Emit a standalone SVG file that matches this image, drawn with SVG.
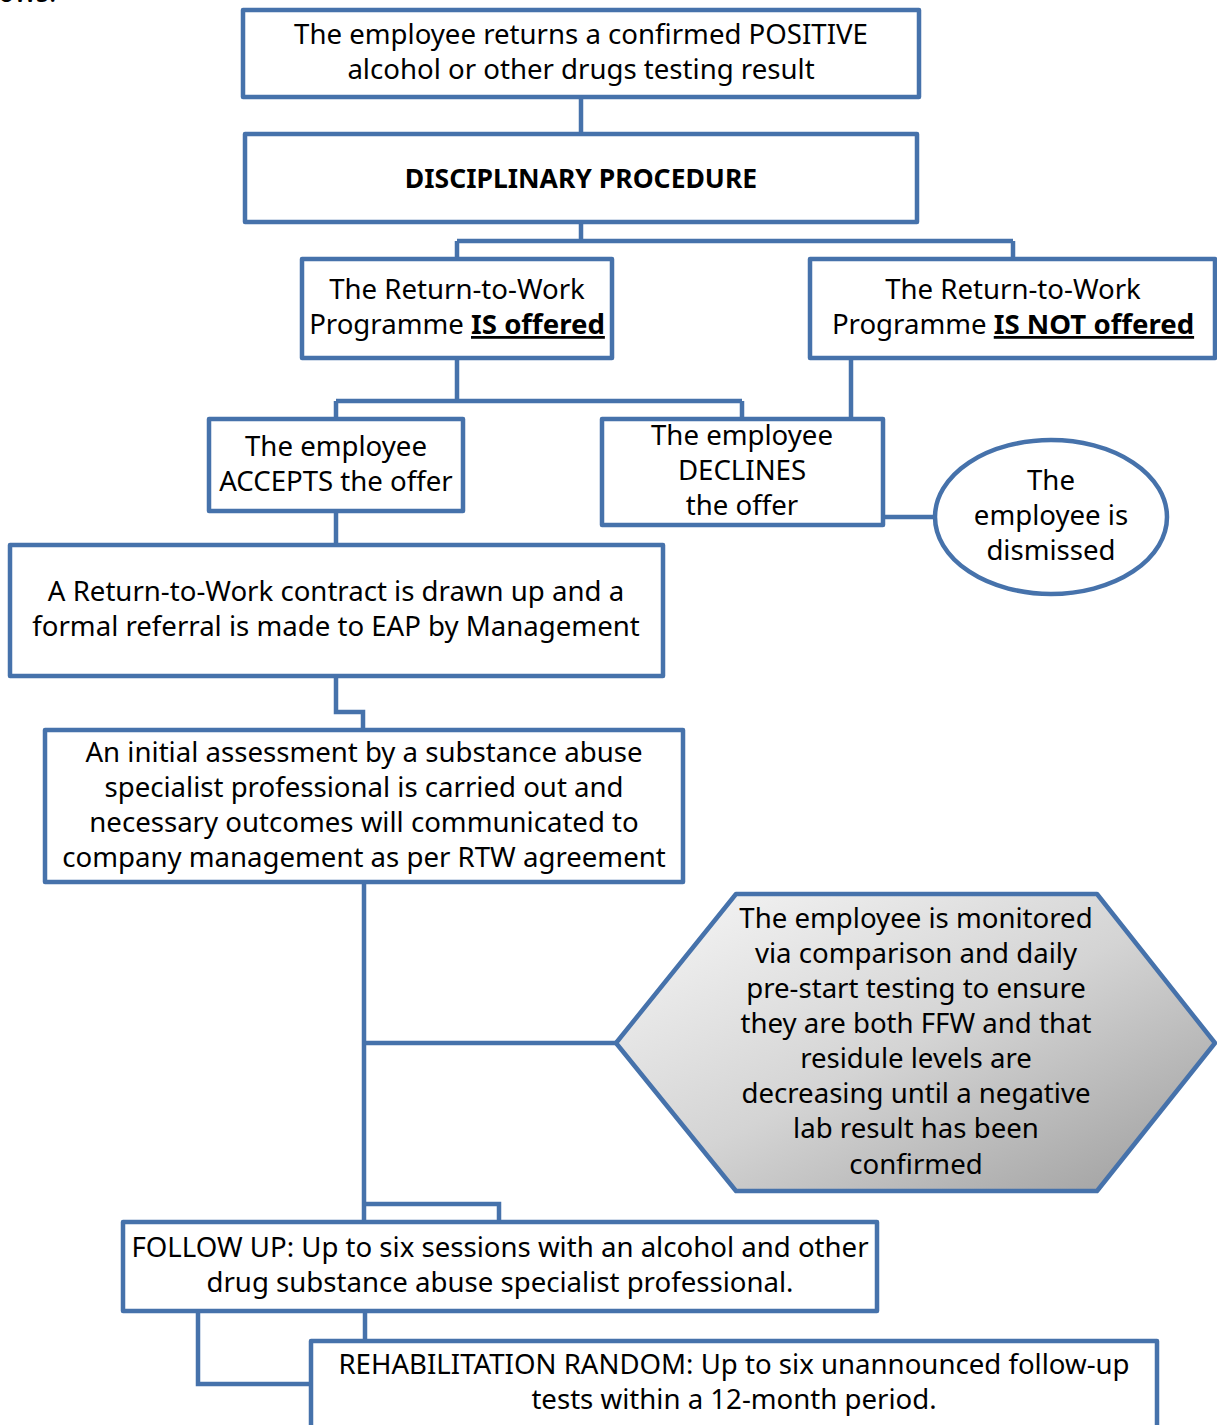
<svg xmlns="http://www.w3.org/2000/svg" width="1217" height="1425" viewBox="0 0 1217 1425">
  <style>
    .box { fill: #ffffff; stroke: #4672ab; stroke-width: 4.5; stroke-linejoin: round; }
    .hex { fill: url(#hexFill); stroke: #4672ab; stroke-width: 4.5; stroke-linejoin: round; }
    .wire { fill: none; stroke: #4672ab; stroke-width: 4.5; stroke-linejoin: miter; }
    text { font-family: "Noto Sans", "Liberation Sans", Arial, sans-serif; font-size: 27.6px; fill: #000000; text-anchor: middle; }
    .bold { font-weight: bold; }
    .em { font-weight: bold; text-decoration: underline; }
  </style>
  <defs>
    <linearGradient id="hexFill" x1="0" y1="0" x2="1" y2="1">
      <stop offset="0" stop-color="#f7f7f7"/>
      <stop offset="0.5" stop-color="#d4d4d4"/>
      <stop offset="1" stop-color="#9c9c9c"/>
    </linearGradient>
  </defs>

  <!-- trailing words of the preceding paragraph, cut by the top edge -->
  <text x="-2" y="2" style="text-anchor:start">ows:</text>

  <!-- connectors -->
  <g id="connectors">
    <path class="wire" d="M581,97 V134"/>
    <path class="wire" d="M581,222 V241 M457,241 H1013 M457,241 V259 M1013,241 V259"/>
    <path class="wire" d="M457,358 V401 M336,401 H742 M336,401 V419 M742,401 V419"/>
    <path class="wire" d="M851,358 V419"/>
    <path class="wire" d="M883,517 H936"/>
    <path class="wire" d="M336,511 V545"/>
    <path class="wire" d="M336,676 V712 H363 V730"/>
    <path class="wire" d="M364,882 V1222"/>
    <path class="wire" d="M364,1043 H616"/>
    <path class="wire" d="M364,1204 H499 V1222"/>
    <path class="wire" d="M365,1311 V1341"/>
    <path class="wire" d="M198,1311 V1384 H311"/>
  </g>

  <g id="positive-result">
    <rect class="box" x="243" y="10" width="676" height="87"/>
    <text x="581" y="44">The employee returns a confirmed POSITIVE</text>
    <text x="581" y="79">alcohol or other drugs testing result</text>
  </g>

  <g id="disciplinary">
    <rect class="box" x="245" y="134" width="672" height="88"/>
    <text class="bold" x="581" y="188" style="font-size:26.5px">DISCIPLINARY PROCEDURE</text>
  </g>

  <g id="rtw-offered">
    <rect class="box" x="302" y="259" width="310" height="99"/>
    <text x="457" y="299">The Return-to-Work</text>
    <text x="457" y="334">Programme <tspan class="em">IS offered</tspan></text>
  </g>

  <g id="rtw-not-offered">
    <rect class="box" x="810" y="259" width="405" height="99"/>
    <text x="1013" y="299">The Return-to-Work</text>
    <text x="1013" y="334">Programme <tspan class="em">IS NOT offered</tspan></text>
  </g>

  <g id="accepts">
    <rect class="box" x="209" y="419" width="254" height="92"/>
    <text x="336" y="456">The employee</text>
    <text x="336" y="491">ACCEPTS the offer</text>
  </g>

  <g id="declines">
    <rect class="box" x="602" y="419" width="281" height="106"/>
    <text x="742" y="445">The employee</text>
    <text x="742" y="480">DECLINES</text>
    <text x="742" y="515">the offer</text>
  </g>

  <g id="dismissed">
    <ellipse class="box" cx="1051" cy="517" rx="116" ry="77"/>
    <text x="1051" y="490">The</text>
    <text x="1051" y="525">employee is</text>
    <text x="1051" y="560">dismissed</text>
  </g>

  <g id="rtw-contract">
    <rect class="box" x="10" y="545" width="653" height="131"/>
    <text x="336" y="601">A Return-to-Work contract is drawn up and a</text>
    <text x="336" y="636">formal referral is made to EAP by Management</text>
  </g>

  <g id="initial-assessment">
    <rect class="box" x="45" y="730" width="638" height="152"/>
    <text x="364" y="762">An initial assessment by a substance abuse</text>
    <text x="364" y="797">specialist professional is carried out and</text>
    <text x="364" y="832">necessary outcomes will communicated to</text>
    <text x="364" y="867">company management as per RTW agreement</text>
  </g>

  <g id="monitoring">
    <polygon class="hex" points="616,1043 736,894 1097,894 1215,1043 1097,1191 736,1191"/>
    <text x="916" y="928">The employee is monitored</text>
    <text x="916" y="963">via comparison and daily</text>
    <text x="916" y="998">pre-start testing to ensure</text>
    <text x="916" y="1033">they are both FFW and that</text>
    <text x="916" y="1068">residule levels are</text>
    <text x="916" y="1103">decreasing until a negative</text>
    <text x="916" y="1138">lab result has been</text>
    <text x="916" y="1174">confirmed</text>
  </g>

  <g id="follow-up">
    <rect class="box" x="123" y="1222" width="754" height="89"/>
    <text x="500" y="1257">FOLLOW UP: Up to six sessions with an alcohol and other</text>
    <text x="500" y="1292">drug substance abuse specialist professional.</text>
  </g>

  <g id="rehab-random">
    <rect class="box" x="311" y="1341" width="846" height="100"/>
    <text x="734" y="1374">REHABILITATION RANDOM: Up to six unannounced follow-up</text>
    <text x="734" y="1409">tests within a 12-month period.</text>
  </g>
</svg>
